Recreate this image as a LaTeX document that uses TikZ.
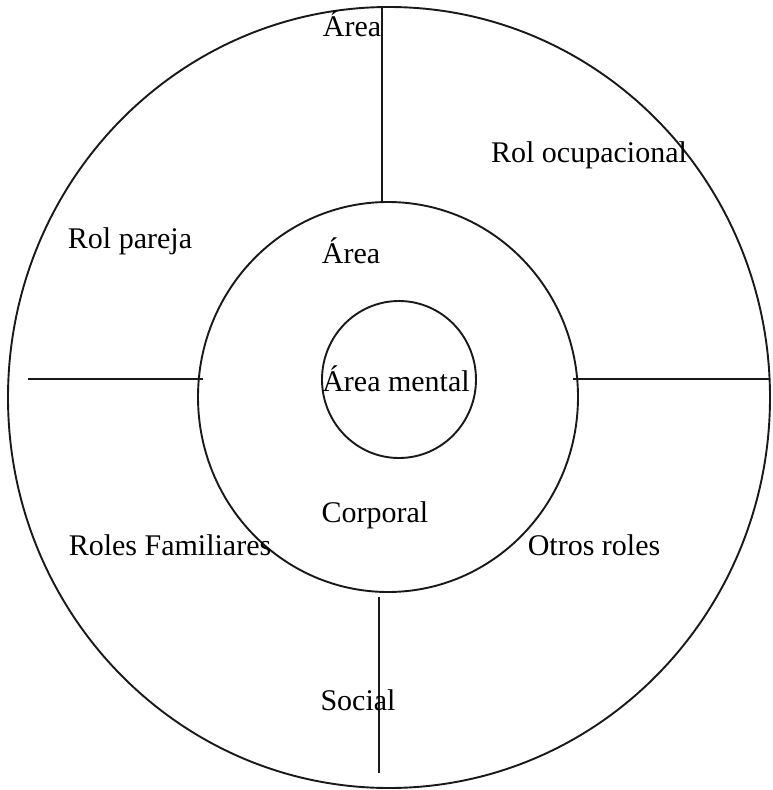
\documentclass[tikz,border=0pt]{standalone}
\usepackage{fontspec}
\setmainfont{Liberation Serif}
\begin{document}
\begin{tikzpicture}[x=1pt,y=-1pt,
  ring/.style={draw=black!90, line width=1.9pt},
  spoke/.style={draw=black!90, line width=1.9pt},
  lbl/.style={anchor=base, inner sep=0pt, font=\fontsize{30}{36}\selectfont}]
\useasboundingbox (0,0) rectangle (772,790);
% rings
\draw[ring] (389,397.5) ellipse [x radius=381pt, y radius=390.5pt];
\draw[ring] (388,397) ellipse [x radius=190pt, y radius=195pt];
\draw[ring] (399,379.5) ellipse [x radius=77pt, y radius=78.5pt];
% spoke end points
\coordinate (t1) at (382,7);   \coordinate (t2) at (382,202);
\coordinate (b1) at (379,597); \coordinate (b2) at (379,773);
\coordinate (l1) at (28,379);  \coordinate (l2) at (203,379);
\coordinate (r1) at (573,379); \coordinate (r2) at (770,379);
\draw[spoke] (t1) -- (t2);
\draw[spoke] (b1) -- (b2);
\draw[spoke] (l1) -- (l2);
\draw[spoke] (r1) -- (r2);
% labels
\node[lbl] (areaTop) at (352,36) {Área};
\node[lbl] (rolOcup) at (589,162) {Rol ocupacional};
\node[lbl] (rolPareja) at (130,248) {Rol pareja};
\node[lbl] (areaMid) at (351,263) {Área};
\node[lbl] (areaMental) at (396,391) {Área mental};
\node[lbl] (corporal) at (375,522) {Corporal};
\node[lbl] (rolesFam) at (170,555) {Roles Familiares};
\node[lbl] (otros) at (594,555) {Otros roles};
\node[lbl] (social) at (358,710) {Social};
\end{tikzpicture}
\end{document}
